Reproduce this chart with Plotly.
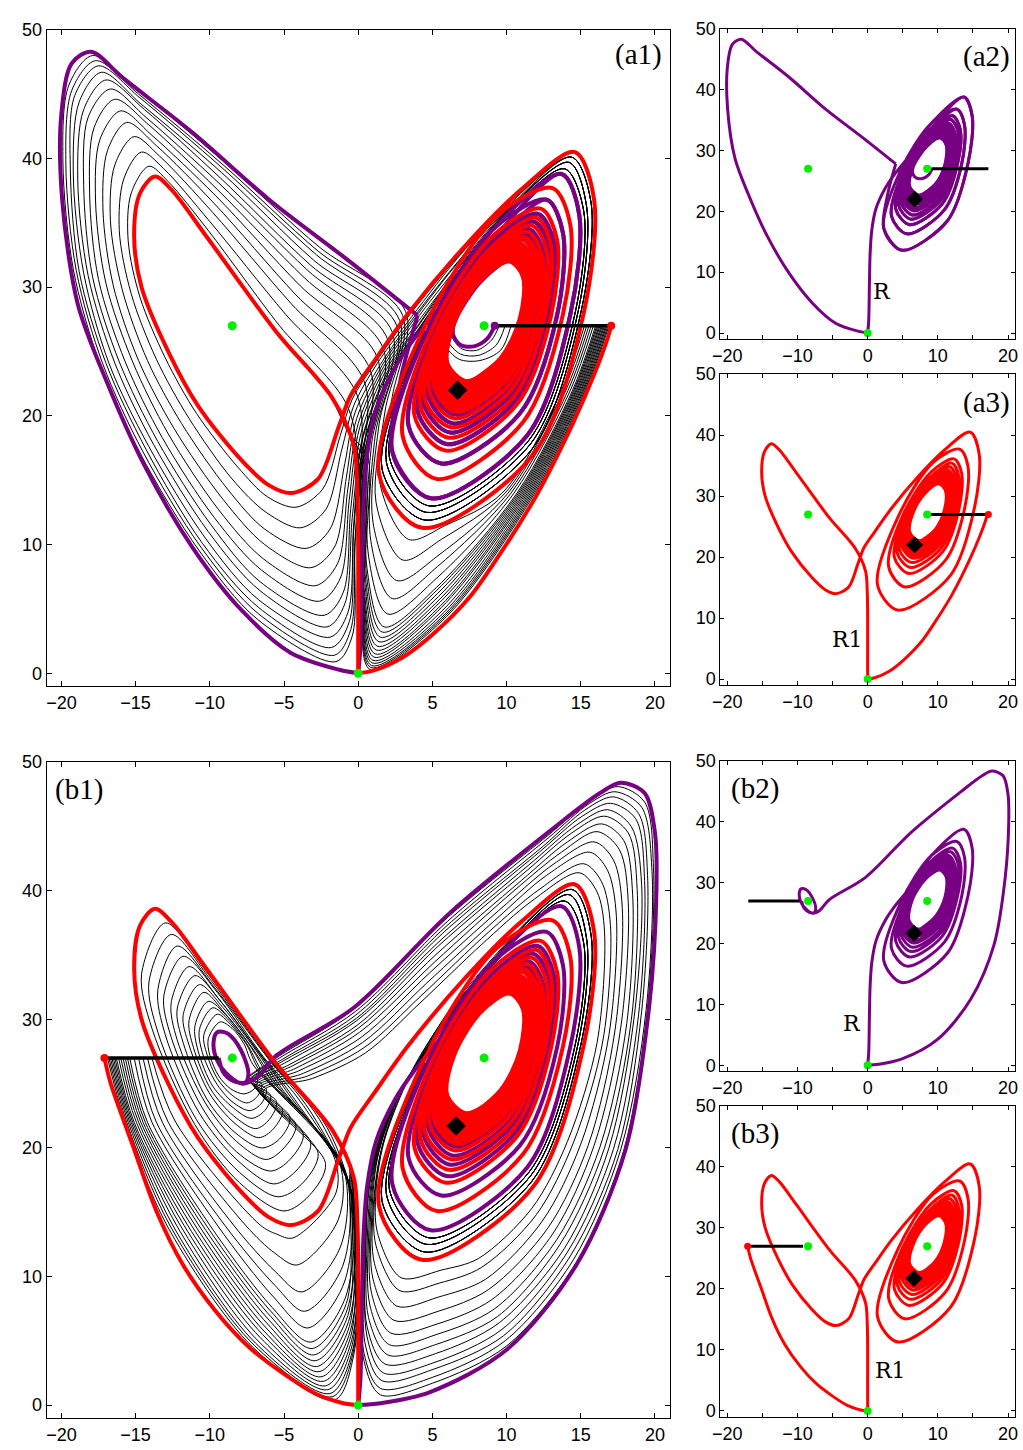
import plotly.graph_objects as go

PURPLE = "rgb(120,0,130)"
RED = "rgb(255,0,0)"
GREEN = "rgb(0,238,0)"
BLACK = "black"

# ---------------- fixed points (x, z) ----------------
EQ_X = [-8.485, 0.0, 8.485]
EQ_Z = [27.0, 0.0, 27.0]
DIAM_A_X, DIAM_A_Z = [6.7], [22.0]
DIAM_B_X, DIAM_B_Z = [6.6], [21.7]

# ---------------- spiral loops around C+ (outer -> inner) ----------------
# points per loop: top, right, right-lower, lower-right, bottom, left, left-upper, upper-left
LOOP_X = [
    [14.6, 15.9, 15.2, 11.8, 4.3, 1.4, 4.3, 9.3],
    [13.7, 14.9, 14.3, 11.4, 4.9, 2.3, 4.7, 9.1],
    [13.1, 14.3, 13.8, 11.1, 5.3, 3.0, 5.0, 9.0],
    [12.7, 13.8, 13.4, 10.9, 5.6, 3.4, 5.2, 8.9],
    [12.3, 13.4, 13.0, 10.7, 5.9, 3.8, 5.4, 8.8],
    [12.1, 13.2, 12.8, 10.6, 6.0, 4.0, 5.5, 8.7],
    [12.0, 13.0, 12.6, 10.5, 6.1, 4.2, 5.6, 8.7],
    [11.8, 12.9, 12.5, 10.4, 6.2, 4.4, 5.7, 8.7],
    [11.7, 12.7, 12.3, 10.3, 6.3, 4.5, 5.8, 8.6],
    [11.5, 12.5, 12.2, 10.3, 6.4, 4.7, 5.8, 8.6],
    [11.4, 12.4, 12.1, 10.2, 6.5, 4.8, 5.9, 8.6],
    [11.3, 12.3, 12.0, 10.1, 6.6, 4.9, 6.0, 8.5],
    [11.2, 12.2, 11.8, 10.1, 6.6, 5.1, 6.0, 8.5],
    [11.1, 12.0, 11.7, 10.0, 6.7, 5.2, 6.1, 8.5],
    [10.9, 11.9, 11.6, 10.0, 6.8, 5.3, 6.1, 8.5],
    [10.9, 11.8, 11.5, 9.9, 6.8, 5.4, 6.2, 8.4],
    [10.8, 11.7, 11.5, 9.9, 6.9, 5.5, 6.2, 8.4],
    [10.7, 11.6, 11.4, 9.8, 7.0, 5.6, 6.3, 8.4],
    [10.6, 11.5, 11.3, 9.8, 7.0, 5.7, 6.3, 8.4],
    [10.5, 11.5, 11.2, 9.8, 7.1, 5.7, 6.3, 8.4],
    [10.5, 11.4, 11.2, 9.7, 7.1, 5.8, 6.4, 8.4],
    [10.4, 11.3, 11.1, 9.7, 7.2, 5.9, 6.4, 8.3],
    [10.3, 11.2, 11.0, 9.7, 7.2, 6.0, 6.4, 8.3],
    [10.3, 11.2, 11.0, 9.6, 7.3, 6.0, 6.5, 8.3],
    [10.2, 11.1, 10.9, 9.6, 7.3, 6.1, 6.5, 8.3],
]
LOOP_Z = [
    [40.5, 36.8, 28.0, 17.0, 11.3, 15.5, 26.5, 35.5],
    [38.8, 35.6, 27.9, 18.5, 13.6, 17.2, 26.7, 34.5],
    [37.7, 34.8, 27.9, 19.5, 15.1, 18.4, 26.8, 33.9],
    [36.8, 34.2, 27.8, 20.2, 16.3, 19.2, 26.8, 33.4],
    [36.1, 33.7, 27.8, 20.9, 17.3, 20.0, 26.9, 32.9],
    [35.7, 33.4, 27.8, 21.2, 17.8, 20.4, 26.9, 32.7],
    [35.4, 33.2, 27.8, 21.5, 18.3, 20.7, 27.0, 32.5],
    [35.1, 33.0, 27.7, 21.8, 18.7, 21.0, 27.0, 32.3],
    [34.8, 32.8, 27.7, 22.0, 19.1, 21.3, 27.0, 32.2],
    [34.5, 32.6, 27.7, 22.2, 19.4, 21.6, 27.1, 32.0],
    [34.3, 32.4, 27.7, 22.5, 19.8, 21.9, 27.1, 31.9],
    [34.1, 32.3, 27.7, 22.7, 20.1, 22.1, 27.1, 31.7],
    [33.9, 32.1, 27.7, 22.9, 20.3, 22.3, 27.1, 31.6],
    [33.7, 32.0, 27.7, 23.0, 20.6, 22.5, 27.1, 31.5],
    [33.4, 31.8, 27.7, 23.2, 20.9, 22.7, 27.2, 31.4],
    [33.3, 31.7, 27.7, 23.4, 21.2, 22.9, 27.2, 31.2],
    [33.1, 31.6, 27.7, 23.5, 21.4, 23.1, 27.2, 31.2],
    [32.9, 31.5, 27.6, 23.7, 21.6, 23.2, 27.2, 31.1],
    [32.8, 31.3, 27.6, 23.8, 21.9, 23.4, 27.2, 31.0],
    [32.6, 31.2, 27.6, 23.9, 22.0, 23.5, 27.2, 30.9],
    [32.5, 31.2, 27.6, 24.1, 22.2, 23.7, 27.3, 30.8],
    [32.4, 31.1, 27.6, 24.2, 22.4, 23.8, 27.3, 30.7],
    [32.3, 31.0, 27.6, 24.3, 22.6, 23.9, 27.3, 30.7],
    [32.1, 30.9, 27.6, 24.4, 22.7, 24.1, 27.3, 30.6],
    [32.0, 30.8, 27.6, 24.5, 22.9, 24.2, 27.3, 30.5],
]
RED_LOOPS = [0, 2, 4, 6, 8, 10, 12, 13, 14, 15, 16, 17, 18, 19, 20, 21, 22, 23]
PUR_OUT_LOOPS = [23, 21, 19, 17, 15, 13, 11, 9, 7, 5, 3]
PUR_IN_LOOPS = [1, 3, 5, 7, 9, 11, 13, 15, 17, 19, 21]

BLOOP_X = [[14.4, 15.7, 15.0, 11.7, 4.5, 1.6, 4.4], [14.2, 15.4, 14.8, 11.6, 4.6, 1.9, 4.5], [13.9, 15.2, 14.6, 11.5, 4.8, 2.1, 4.6]]
BLOOP_Z = [[40.1, 36.5, 28.0, 17.4, 11.9, 15.9, 26.5], [39.7, 36.2, 28.0, 17.8, 12.5, 16.4, 26.6], [39.2, 35.9, 27.9, 18.1, 13.0, 16.8, 26.6]]

# ---------------- purple trajectory R ----------------
PUR_HOOK_X = [9.2, 8.7, 7.8, 6.9, 6.4]
PUR_HOOK_Z = [27.0, 26.0, 25.4, 25.5, 26.3]
PUR_EXIT_X = [2.8, 4.0]
PUR_EXIT_Z = [22.5, 27.8]
PUR_LOBE_X = [4.0, -0.8, -6.0, -11.15, -15.9, -18.0, -19.3, -20.0, -19.95, -18.9, -17.0, -14.45, -11.15, -7.86, -4.56, -1.27, 0.0]
PUR_LOBE_Z = [27.8, 32.2, 36.8, 42.0, 46.3, 48.3, 47.4, 43.5, 36.8, 28.7, 22.8, 16.25, 9.75, 4.9, 1.6, 0.27, 0.0]
PUR_RET_X = [0.0, 0.15, 0.25, 0.35, 0.6, 1.2, 2.5, 3.9, 5.6]
PUR_RET_Z = [0.0, 2.0, 8.0, 13.0, 17.0, 20.5, 23.8, 26.2, 28.6]
PUR_B_X = [-9.4, -9.1, -8.4, -7.6, -7.4, -7.9, -8.8, -9.5, -9.75, -9.5, -8.7, -7.8, -6.8, -5.5, -0.3, 6.2, 13.3,
           16.3, 17.7, 19.3, 20.0, 20.1, 19.6, 18.0, 14.7, 10.0, 4.8, 1.5, 0.0]
PUR_B_Z = [27.0, 25.9, 25.2, 25.1, 25.8, 27.6, 28.9, 29.0, 28.2, 26.8, 25.6, 25.0, 25.5, 27.2, 30.9, 38.3, 45.0,
           47.6, 48.4, 47.6, 44.5, 40.0, 30.9, 19.8, 10.9, 4.3, 1.0, 0.15, 0.0]

# ---------------- red trajectory R1 ----------------
RED_A_START_X = [17.05, 16.8, 16.0, 14.5, 12.0, 9.4, 7.5, 5.2, 3.07, 1.0, 0.0]
RED_A_START_Z = [27.0, 26.0, 23.5, 19.5, 13.8, 9.0, 5.9, 3.2, 1.28, 0.2, 0.0]
RED_B_START_X = [-17.1, -16.7, -15.1, -13.6, -11.8, -9.6, -7.35, -5.1, -2.9, -1.0, 0.0]
RED_B_START_Z = [27.0, 25.1, 19.9, 15.1, 10.9, 7.3, 4.5, 2.5, 0.9, 0.15, 0.0]
RED_UP_X = [0.0, 0.0, 0.0, -0.05, -0.3]
RED_UP_Z = [0.0, 5.0, 10.0, 14.0, 17.7]
RED_LOBE_X = [-1.75, -5.5, -10.2, -12.6, -13.7, -14.7, -15.1, -14.6, -12.8, -10.8, -7.9, -6.0, -4.5, -2.7, -1.3, -0.5]
RED_LOBE_Z = [21.4, 26.5, 33.9, 37.6, 38.6, 37.3, 34.0, 30.0, 25.0, 20.8, 16.6, 14.6, 14.0, 15.1, 19.2, 21.6]
RED_ENTRY_X = [1.1, 3.4, 7.2, 11.0]
RED_ENTRY_Z = [24.3, 28.0, 33.2, 37.6]

# ---------------- black family of panel (a1) ----------------
A_S_X = [16.9, 16.75, 16.6, 16.45, 16.3, 16.15, 16.0, 15.85, 15.7, 15.55, 15.4, 15.25]
A_S_Z = [27.0, 27.0, 27.0, 27.0, 27.0, 27.0, 27.0, 27.0, 27.0, 27.0, 27.0, 27.0]
A_K1_X = [15.35, 15.2, 15.05, 14.9, 14.75, 14.6, 14.45, 14.3, 14.15, 14.0, 13.85, 13.7]
A_K1_Z = [22.0, 22.0, 22.0, 22.0, 22.0, 22.0, 22.0, 22.0, 22.0, 22.0, 22.0, 22.0]
A_K2_X = [11.9, 11.7, 11.5, 11.3, 11.1, 10.9, 10.7, 10.5, 10.3, 10.1, 9.9, 9.7]
A_K2_Z = [14.0, 14.0, 14.0, 14.0, 14.0, 14.0, 14.0, 14.0, 14.0, 14.0, 14.0, 14.0]
A_K3_X = [5.95, 5.85, 5.7, 5.55, 5.45, 5.35, 5.3, 5.3, 5.35, 5.45, 5.6, 5.9]
A_K3_Z = [4.4, 4.6, 4.9, 5.25, 5.7, 6.2, 6.7, 7.4, 8.3, 9.2, 10.4, 11.5]
A_RU_X = [0.8, 0.9, 1.0, 1.15, 1.3, 1.5, 1.75, 2.0, 2.3, 2.6, 3.0, 3.4]
A_RU_Z = [0.3, 0.6, 1.0, 1.5, 2.1, 2.8, 3.6, 4.6, 5.8, 7.2, 8.8, 10.4]
A_UP1_X = [0.2, 0.25, 0.3, 0.35, 0.4, 0.5, 0.6, 0.7, 0.85, 1.0, 1.2, 1.45]
A_UP1_Z = [4.8, 5.1, 5.5, 6.0, 6.6, 7.3, 8.1, 9.1, 10.3, 11.7, 13.3, 14.9]
A_UP2_X = [0.1, 0.15, 0.2, 0.3, 0.4, 0.55, 0.7, 0.9, 1.15, 1.4, 1.8, 2.3]
A_UP2_Z = [14.0, 14.5, 15.0, 15.5, 16.0, 16.6, 17.2, 17.8, 18.5, 19.3, 20.3, 21.5]
A_F_X = [-0.7, -0.1, 0.4, 0.8, 1.3, 1.7, 2.0, 2.3, 2.6, 2.8, 3.0, 3.2]
A_F_Z = [20.7, 21.7, 22.7, 23.6, 24.5, 25.2, 25.9, 26.5, 27.0, 27.4, 27.8, 28.1]
A_D1_X = [-5.3, -4.9, -4.5, -4.2, -3.9, -3.6, -3.4, -3.2, -3.0, -2.8, -2.7, -2.6]
A_D1_Z = [27.0, 27.9, 28.7, 29.4, 30.1, 30.7, 31.3, 31.7, 32.1, 32.5, 32.8, 33.1]
A_D2_X = [-10.1, -10.0, -9.8, -9.7, -9.6, -9.5, -9.4, -9.3, -9.2, -9.1, -9.1, -9.0]
A_D2_Z = [34.4, 35.1, 35.8, 36.5, 37.1, 37.6, 38.1, 38.5, 38.9, 39.2, 39.5, 39.7]
A_D3_X = [-12.8, -13.1, -13.4, -13.6, -13.9, -14.1, -14.3, -14.4, -14.6, -14.7, -14.8, -14.9]
A_D3_Z = [38.2, 39.2, 40.2, 41.0, 41.8, 42.6, 43.2, 43.8, 44.2, 44.7, 45.0, 45.4]
A_T_X = [-14.1, -14.6, -15.1, -15.6, -16.0, -16.4, -16.7, -17.0, -17.3, -17.5, -17.7, -17.9]
A_T_Z = [39.4, 40.5, 41.7, 42.8, 43.7, 44.6, 45.4, 46.1, 46.7, 47.2, 47.6, 48.0]
A_L1_X = [-15.3, -15.8, -16.4, -16.9, -17.4, -17.8, -18.2, -18.5, -18.8, -19.1, -19.3, -19.5]
A_L1_Z = [37.3, 38.4, 39.5, 40.6, 41.5, 42.4, 43.2, 43.8, 44.4, 44.9, 45.3, 45.7]
A_L_X = [-15.5, -16.1, -16.7, -17.2, -17.7, -18.1, -18.5, -18.9, -19.2, -19.4, -19.7, -19.9]
A_L_Z = [33.6, 34.4, 35.2, 36.0, 36.7, 37.3, 37.9, 38.4, 38.8, 39.2, 39.5, 39.8]
A_L2_X = [-14.7, -15.3, -15.9, -16.5, -17.0, -17.5, -17.9, -18.2, -18.5, -18.8, -19.0, -19.2]
A_L2_Z = [29.2, 29.5, 29.8, 30.1, 30.3, 30.6, 30.8, 30.9, 31.1, 31.2, 31.3, 31.4]
A_L3_X = [-13.0, -13.6, -14.2, -14.8, -15.2, -15.7, -16.1, -16.4, -16.8, -17.0, -17.2, -17.4]
A_L3_Z = [24.5, 24.4, 24.3, 24.3, 24.2, 24.2, 24.2, 24.1, 24.1, 24.1, 24.0, 24.0]
A_L4_X = [-10.9, -11.4, -11.9, -12.4, -12.8, -13.2, -13.5, -13.8, -14.1, -14.3, -14.5, -14.7]
A_L4_Z = [20.2, 19.8, 19.4, 19.0, 18.6, 18.3, 18.0, 17.8, 17.6, 17.4, 17.2, 17.1]
A_L5_X = [-8.1, -8.5, -8.8, -9.1, -9.4, -9.7, -9.9, -10.1, -10.3, -10.5, -10.6, -10.7]
A_L5_Z = [16.0, 15.1, 14.3, 13.5, 12.7, 12.1, 11.5, 11.0, 10.5, 10.1, 9.8, 9.5]
A_L6_X = [-6.1, -6.2, -6.3, -6.3, -6.4, -6.5, -6.6, -6.6, -6.7, -6.7, -6.7, -6.8]
A_L6_Z = [13.7, 12.5, 11.2, 10.0, 8.9, 8.0, 7.1, 6.4, 5.7, 5.1, 4.6, 4.2]
A_LU_X = [-4.2, -3.9, -3.5, -3.2, -2.9, -2.6, -2.3, -2.1, -1.9, -1.8, -1.6, -1.5]
A_LU_Z = [12.9, 11.3, 9.7, 8.2, 6.8, 5.6, 4.5, 3.6, 2.8, 2.0, 1.4, 0.9]
A_U1_X = [-2.4, -2.2, -1.9, -1.6, -1.4, -1.2, -1.0, -0.9, -0.7, -0.6, -0.5, -0.4]
A_U1_Z = [14.3, 12.7, 11.2, 9.8, 8.5, 7.4, 6.3, 5.4, 4.7, 4.0, 3.4, 2.9]
A_U2_X = [-1.2, -1.1, -0.9, -0.8, -0.7, -0.6, -0.5, -0.4, -0.3, -0.3, -0.2, -0.2]
A_U2_Z = [18.5, 17.4, 16.3, 15.2, 14.3, 13.5, 12.8, 12.1, 11.6, 11.1, 10.6, 10.3]
A_U3_X = [-0.4, -0.3, -0.2, -0.1, 0.0, 0.1, 0.2, 0.3, 0.3, 0.4, 0.4, 0.5]
A_U3_Z = [21.3, 20.8, 20.3, 19.8, 19.4, 19.1, 18.7, 18.4, 18.2, 18.0, 17.8, 17.6]
A_E1_X = [1.2, 1.3, 1.5, 1.6, 1.7, 1.8, 1.9, 2.0, 2.1, 2.2, 2.2, 2.3]
A_E1_Z = [24.2, 24.1, 24.0, 23.9, 23.8, 23.7, 23.6, 23.5, 23.5, 23.4, 23.4, 23.3]
A_E2_X = [3.5, 3.6, 3.7, 3.7, 3.8, 3.9, 4.0, 4.0, 4.1, 4.1, 4.1, 4.2]
A_E2_Z = [27.9, 27.7, 27.6, 27.4, 27.3, 27.1, 27.0, 26.9, 26.8, 26.8, 26.7, 26.6]
A_E3_X = [7.2, 7.1, 7.1, 7.0, 7.0, 7.0, 6.9, 6.9, 6.9, 6.9, 6.8, 6.8]
A_E3_Z = [33.0, 32.8, 32.5, 32.3, 32.0, 31.8, 31.7, 31.5, 31.4, 31.3, 31.2, 31.1]
A_E4_X = [10.9, 10.7, 10.5, 10.4, 10.2, 10.1, 10.0, 9.8, 9.8, 9.7, 9.6, 9.6]
A_E4_Z = [37.4, 37.1, 36.8, 36.5, 36.2, 36.0, 35.8, 35.6, 35.4, 35.3, 35.2, 35.1]
A_LOOP_ID = [0, 0, 0, 0, 1, 1, 1, 1, 2, 2, 2, 2]

# extra nested U curves of (a1), between the ones above
AX_S_X = [16.83, 16.68, 16.53, 16.38, 16.23, 16.08]
AX_K1_X = [15.28, 15.13, 14.98, 14.83, 14.68, 14.53]
AX_K2_X = [11.8, 11.6, 11.4, 11.2, 11.0, 10.8]
AX_K3_X = [5.9, 5.8, 5.6, 5.5, 5.4, 5.3]
AX_K3_Z = [4.5, 4.75, 5.1, 5.5, 5.95, 6.45]
AX_RU_X = [0.85, 0.95, 1.07, 1.22, 1.4, 1.62]
AX_RU_Z = [0.45, 0.8, 1.25, 1.8, 2.45, 3.2]
AX_UP1_X = [0.22, 0.27, 0.32, 0.37, 0.45, 0.55]
AX_UP1_Z = [4.95, 5.3, 5.75, 6.3, 6.95, 7.7]
AX_UP2_X = [0.12, 0.17, 0.25, 0.35, 0.47, 0.62]
AX_UP2_Z = [14.2, 14.7, 15.2, 15.7, 16.3, 16.9]

HOOK_X = [[9.5, 9.0, 8.0, 7.0, 6.3, 6.2], [9.9, 9.3, 8.1, 6.9, 6.0, 5.9], [10.3, 9.6, 8.2, 6.8, 5.8, 5.6]]
HOOK_Z = [[27.0, 25.9, 25.1, 25.2, 26.2, 27.5], [27.0, 25.5, 24.7, 24.8, 25.9, 27.5], [27.0, 25.1, 24.3, 24.4, 25.6, 27.5]]

# ---------------- black family of panel (b1) ----------------
B_S_X = [-16.9, -16.7, -16.5, -16.3, -16.0, -15.7, -15.4, -15.1, -14.8, -14.5, -14.2, -13.9]
B_K1_X = [-15.7, -15.5, -15.3, -15.1, -14.8, -14.5, -14.2, -13.9, -13.6, -13.2, -12.8, -12.3]
B_K2_X = [-12.9, -12.5, -12.0, -11.5, -11.0, -10.5, -10.0, -9.5, -9.0, -8.4, -7.6, -6.6]
B_K3_X = [-7.1, -6.9, -6.6, -6.3, -6.1, -5.9, -5.8, -5.7, -5.6, -5.6, -5.6, -5.5]
B_K3_Z = [4.5, 4.8, 5.25, 5.7, 6.3, 6.9, 7.6, 8.4, 9.3, 10.4, 11.8, 13.3]
B_RU_X = [-1.6, -1.9, -2.2, -2.5, -2.8, -3.0, -3.2, -3.4, -3.6, -3.8, -4.1, -4.4]
B_RU_Z = [0.4, 0.9, 1.5, 2.2, 3.0, 3.9, 4.9, 6.0, 7.3, 8.8, 10.9, 13.0]
B_UP1_X = [-0.3, -0.35, -0.45, -0.55, -0.65, -0.75, -0.85, -0.95, -1.05, -1.2, -1.35, -1.5]
B_UP1_Z = [3.9, 4.4, 5.0, 5.7, 6.5, 7.4, 8.4, 9.5, 10.8, 12.3, 14.4, 16.5]
B_UP2_X = [-0.2, -0.25, -0.3, -0.35, -0.45, -0.55, -0.65, -0.75, -0.9, -1.05, -1.3, -1.7]
B_UP2_Z = [15.0, 15.4, 15.8, 16.2, 16.6, 17.0, 17.4, 17.8, 18.2, 18.6, 19.0, 19.5]
B_Q1_X = [-2.1, -2.6, -3.2, -3.7, -4.3, -4.7, -5.2, -5.6, -6.0, -6.4, -6.7, -7.1]
B_Q1_Z = [21.6, 22.2, 22.8, 23.3, 23.8, 24.2, 24.7, 25.1, 25.5, 25.8, 26.1, 26.5]
B_Q2_X = [-5.7, -5.9, -6.1, -6.4, -6.6, -6.7, -6.9, -7.1, -7.2, -7.4, -7.5, -7.7]
B_Q2_Z = [26.6, 26.8, 27.0, 27.1, 27.3, 27.4, 27.6, 27.7, 27.8, 27.9, 28.0, 28.1]
B_Q3_X = [-10.1, -9.9, -9.7, -9.5, -9.4, -9.2, -9.1, -9.0, -8.8, -8.7, -8.6, -8.5]
B_Q3_Z = [33.5, 33.0, 32.5, 32.1, 31.6, 31.3, 30.9, 30.5, 30.2, 29.9, 29.6, 29.3]
B_QT_X = [-13.0, -12.6, -12.2, -11.8, -11.4, -11.0, -10.7, -10.4, -10.1, -9.8, -9.5, -9.3]
B_QT_Z = [37.5, 36.6, 35.7, 34.9, 34.1, 33.4, 32.7, 32.1, 31.4, 30.9, 30.4, 29.8]
B_QL_X = [-14.6, -14.1, -13.5, -13.1, -12.6, -12.2, -11.8, -11.4, -11.0, -10.7, -10.4, -10.1]
B_QL_Z = [33.5, 32.9, 32.3, 31.8, 31.3, 30.8, 30.3, 29.9, 29.5, 29.2, 28.8, 28.5]
B_QL2_X = [-13.9, -13.5, -13.0, -12.6, -12.2, -11.8, -11.4, -11.1, -10.8, -10.5, -10.2, -10.0]
B_QL2_Z = [29.3, 29.0, 28.8, 28.6, 28.4, 28.2, 28.0, 27.8, 27.6, 27.4, 27.3, 27.2]
B_QL3_X = [-11.0, -10.9, -10.7, -10.5, -10.3, -10.2, -10.0, -9.9, -9.8, -9.6, -9.5, -9.4]
B_QL3_Z = [21.8, 22.2, 22.7, 23.1, 23.5, 23.8, 24.2, 24.5, 24.8, 25.1, 25.4, 25.6]
B_QB1_X = [-8.0, -8.0, -8.1, -8.2, -8.2, -8.3, -8.3, -8.4, -8.4, -8.5, -8.5, -8.6]
B_QB1_Z = [17.3, 18.1, 19.0, 19.7, 20.5, 21.2, 21.9, 22.5, 23.1, 23.6, 24.1, 24.6]
B_QB_X = [-5.0, -5.4, -5.7, -5.9, -6.2, -6.5, -6.7, -6.9, -7.2, -7.3, -7.5, -7.7]
B_QB_Z = [15.1, 16.2, 17.2, 18.2, 19.1, 20.0, 20.8, 21.5, 22.3, 22.9, 23.5, 24.2]
B_QR_X = [-3.3, -3.8, -4.2, -4.6, -5.0, -5.3, -5.7, -6.0, -6.3, -6.5, -6.8, -7.0]
B_QR_Z = [16.3, 17.2, 18.2, 19.1, 20.0, 20.7, 21.5, 22.2, 22.9, 23.5, 24.0, 24.6]
B_QR2_X = [-2.2, -2.7, -3.2, -3.7, -4.2, -4.6, -5.1, -5.5, -5.9, -6.2, -6.5, -6.8]
B_QR2_Z = [18.8, 19.6, 20.4, 21.1, 21.8, 22.4, 23.0, 23.6, 24.1, 24.6, 25.0, 25.4]
B_X0_X = [-6.4, -6.5, -6.7, -6.8, -6.9, -7.0, -7.1, -7.2, -7.3, -7.4, -7.5, -7.5]
B_X0_Z = [24.4, 24.5, 24.6, 24.7, 24.8, 24.9, 25.0, 25.1, 25.2, 25.2, 25.3, 25.4]
B_G1_X = [-3.1, -3.4, -3.7, -4.0, -4.2, -4.4, -4.6, -4.8, -5.0, -5.1, -5.3, -5.4]
B_G1_Z = [25.4, 25.6, 25.8, 26.0, 26.2, 26.4, 26.5, 26.7, 26.8, 26.9, 27.0, 27.1]
B_G2_X = [0.5, 0.4, 0.3, 0.2, 0.1, 0.0, 0.0, -0.1, -0.1, -0.2, -0.2, -0.3]
B_G2_Z = [27.4, 27.8, 28.2, 28.6, 29.0, 29.3, 29.6, 29.9, 30.1, 30.3, 30.6, 30.8]
B_G3_X = [4.1, 4.3, 4.6, 4.8, 5.1, 5.3, 5.4, 5.6, 5.7, 5.9, 6.0, 6.1]
B_G3_Z = [31.2, 31.9, 32.8, 33.6, 34.4, 35.1, 35.7, 36.2, 36.7, 37.2, 37.6, 38.0]
B_G4_X = [8.3, 8.8, 9.4, 10.0, 10.5, 11.0, 11.4, 11.8, 12.2, 12.5, 12.8, 13.1]
B_G4_Z = [35.8, 36.8, 37.9, 39.0, 40.0, 40.8, 41.6, 42.3, 43.0, 43.5, 44.1, 44.6]
B_G5_X = [11.7, 12.2, 12.7, 13.2, 13.7, 14.1, 14.4, 14.7, 15.1, 15.3, 15.6, 15.8]
B_G5_Z = [39.2, 40.1, 41.2, 42.1, 43.0, 43.8, 44.5, 45.1, 45.8, 46.3, 46.8, 47.2]
B_T_X = [14.9, 15.2, 15.6, 15.9, 16.1, 16.4, 16.6, 16.8, 17.0, 17.2, 17.3, 17.5]
B_T_Z = [41.4, 42.1, 43.0, 43.8, 44.6, 45.2, 45.8, 46.3, 46.8, 47.3, 47.7, 48.1]
B_R1_X = [16.1, 16.4, 16.8, 17.2, 17.6, 17.9, 18.2, 18.4, 18.7, 18.9, 19.1, 19.3]
B_R1_Z = [39.9, 40.7, 41.6, 42.4, 43.2, 43.9, 44.5, 45.0, 45.6, 46.0, 46.5, 46.9]
B_R_X = [16.6, 17.0, 17.4, 17.8, 18.2, 18.5, 18.8, 19.1, 19.3, 19.5, 19.8, 19.9]
B_R_Z = [36.8, 37.3, 38.0, 38.6, 39.1, 39.6, 40.1, 40.5, 40.8, 41.2, 41.5, 41.8]
B_R2_X = [16.1, 16.5, 16.9, 17.3, 17.7, 18.1, 18.4, 18.6, 18.9, 19.1, 19.4, 19.5]
B_R2_Z = [28.2, 28.4, 28.8, 29.1, 29.4, 29.7, 29.9, 30.2, 30.4, 30.6, 30.7, 30.9]
B_R3_X = [14.1, 14.5, 15.0, 15.5, 15.9, 16.3, 16.6, 16.9, 17.2, 17.5, 17.7, 17.9]
B_R3_Z = [20.5, 20.4, 20.3, 20.2, 20.2, 20.1, 20.0, 20.0, 19.9, 19.9, 19.9, 19.8]
B_R4_X = [11.7, 12.0, 12.4, 12.8, 13.1, 13.4, 13.6, 13.9, 14.1, 14.3, 14.5, 14.7]
B_R4_Z = [15.3, 14.8, 14.3, 13.8, 13.3, 12.9, 12.5, 12.2, 11.9, 11.6, 11.3, 11.1]
B_R5_X = [8.1, 8.3, 8.6, 8.8, 9.0, 9.2, 9.4, 9.5, 9.7, 9.8, 9.9, 10.0]
B_R5_Z = [11.4, 10.7, 9.8, 9.0, 8.2, 7.5, 6.9, 6.4, 5.9, 5.4, 5.0, 4.6]
B_RB_X = [5.6, 5.5, 5.4, 5.4, 5.3, 5.3, 5.2, 5.2, 5.1, 5.1, 5.1, 5.0]
B_RB_Z = [10.5, 9.5, 8.4, 7.3, 6.3, 5.5, 4.7, 4.0, 3.3, 2.8, 2.2, 1.7]
B_RU2_X = [2.9, 2.8, 2.6, 2.4, 2.2, 2.1, 2.0, 1.8, 1.7, 1.6, 1.5, 1.5]
B_RU2_Z = [9.9, 8.9, 7.7, 6.6, 5.6, 4.7, 3.9, 3.2, 2.5, 1.9, 1.3, 0.8]
B_RA1_X = [1.3, 1.2, 1.1, 1.0, 0.9, 0.8, 0.7, 0.6, 0.6, 0.5, 0.4, 0.4]
B_RA1_Z = [13.4, 12.4, 11.0, 9.8, 8.7, 7.7, 6.8, 6.1, 5.3, 4.6, 4.0, 3.4]
B_RA2_X = [1.2, 1.1, 1.0, 0.9, 0.8, 0.7, 0.6, 0.5, 0.5, 0.4, 0.3, 0.3]
B_RA2_Z = [16.6, 16.0, 15.1, 14.3, 13.6, 13.0, 12.4, 12.0, 11.5, 11.0, 10.6, 10.3]
B_RA3_X = [1.7, 1.6, 1.5, 1.3, 1.2, 1.1, 1.0, 0.9, 0.8, 0.8, 0.7, 0.6]
B_RA3_Z = [20.3, 20.0, 19.6, 19.2, 18.8, 18.5, 18.2, 18.0, 17.7, 17.5, 17.3, 17.1]
B_E1_X = [3.0, 2.9, 2.8, 2.7, 2.7, 2.6, 2.5, 2.5, 2.4, 2.4, 2.4, 2.3]
B_E1_Z = [24.4, 24.3, 24.2, 24.1, 24.0, 23.9, 23.8, 23.7, 23.6, 23.6, 23.5, 23.4]
B_E2_X = [4.6, 4.5, 4.5, 4.5, 4.4, 4.4, 4.3, 4.3, 4.3, 4.3, 4.2, 4.2]
B_E2_Z = [27.9, 27.8, 27.6, 27.5, 27.3, 27.2, 27.1, 27.0, 26.9, 26.8, 26.7, 26.7]
B_E3_X = [7.0, 7.0, 6.9, 6.9, 6.9, 6.9, 6.9, 6.9, 6.8, 6.8, 6.8, 6.8]
B_E3_Z = [32.0, 31.8, 31.7, 31.6, 31.5, 31.4, 31.4, 31.3, 31.2, 31.2, 31.1, 31.0]

# extra nested U curves of (b1)
BX_S_X = [-16.8, -16.6, -16.4, -16.15, -15.85, -15.55]
BX_K1_X = [-15.6, -15.4, -15.2, -14.95, -14.65, -14.35]
BX_K2_X = [-12.7, -12.25, -11.75, -11.25, -10.75, -10.25]
BX_K3_X = [-7.0, -6.75, -6.45, -6.2, -6.0, -5.85]
BX_K3_Z = [4.65, 5.0, 5.5, 6.0, 6.6, 7.25]
BX_RU_X = [-1.75, -2.05, -2.35, -2.65, -2.9, -3.1]
BX_RU_Z = [0.65, 1.2, 1.85, 2.6, 3.45, 4.4]
BX_UP1_X = [-0.33, -0.4, -0.5, -0.6, -0.7, -0.8]
BX_UP1_Z = [4.15, 4.7, 5.35, 6.1, 6.95, 7.9]
BX_UP2_X = [-0.22, -0.27, -0.32, -0.4, -0.5, -0.6]
BX_UP2_Z = [15.2, 15.6, 16.0, 16.4, 16.8, 17.2]
# the extra curves merge into the red path where it bends left above x = 0
EXTRA_END_X, EXTRA_END_Z = [-0.6, -1.75], [18.6, 21.4]

# ---------------- initial-condition segments and dots ----------------
SEG_A1_X, SEG_A2_X, SEG_A3_X = [9.2, 17.05], [9.1, 17.2], [8.7, 16.9]
SEG_B1_X, SEG_B2_X, SEG_B3_X = [-17.1, -9.4], [-17.0, -9.7], [-16.6, -9.2]
SEG_Z = [27.0, 27.0]
RED_DOT_A1, RED_DOT_A3 = ([17.05], [27.0]), ([17.2], [27.0])
RED_DOT_B = ([-17.1], [27.0])
PUR_DOT_A1 = ([9.2], [27.0])

LBL_R_A2, LBL_R1_A3 = (2.1, 6.8), (-2.8, 6.5)
LBL_R_B2, LBL_R1_B3 = (-2.2, 6.9), (3.2, 6.6)


# ---------------- path assembly ----------------
def loop(k, a=0, b=8):
    return LOOP_X[k][a:b], LOOP_Z[k][a:b]


def chain(parts):
    X, Z = [], []
    for xs, zs in parts:
        X += list(xs)
        Z += list(zs)
    return X, Z


def purple_out_spiral():
    parts = [(PUR_HOOK_X, PUR_HOOK_Z), loop(24, 6, 8)]
    parts += [loop(k) for k in PUR_OUT_LOOPS]
    parts += [loop(1, 0, 6), (PUR_EXIT_X, PUR_EXIT_Z)]
    return chain(parts)


def purple_return(dx, dz):
    parts = [(PUR_RET_X, PUR_RET_Z), loop(1, 7, 8)]
    parts += [loop(k) for k in PUR_IN_LOOPS]
    parts += [loop(23, 0, 4), (dx, dz)]
    return chain(parts)


def red_main(dx, dz):
    parts = [(RED_UP_X, RED_UP_Z), (RED_LOBE_X, RED_LOBE_Z), (RED_ENTRY_X, RED_ENTRY_Z)]
    parts += [loop(k) for k in RED_LOOPS]
    parts += [loop(24, 0, 4), (dx, dz)]
    return chain(parts)


A_STAGES = [(A_S_X, A_S_Z), (A_K1_X, A_K1_Z), (A_K2_X, A_K2_Z), (A_K3_X, A_K3_Z), (A_RU_X, A_RU_Z),
            (A_UP1_X, A_UP1_Z), (A_UP2_X, A_UP2_Z), (A_F_X, A_F_Z), (A_D1_X, A_D1_Z), (A_D2_X, A_D2_Z),
            (A_D3_X, A_D3_Z), (A_T_X, A_T_Z), (A_L1_X, A_L1_Z), (A_L_X, A_L_Z), (A_L2_X, A_L2_Z),
            (A_L3_X, A_L3_Z), (A_L4_X, A_L4_Z), (A_L5_X, A_L5_Z), (A_L6_X, A_L6_Z), (A_LU_X, A_LU_Z),
            (A_U1_X, A_U1_Z), (A_U2_X, A_U2_Z), (A_U3_X, A_U3_Z), (A_E1_X, A_E1_Z), (A_E2_X, A_E2_Z),
            (A_E3_X, A_E3_Z), (A_E4_X, A_E4_Z)]
AX_STAGES = [(AX_S_X, A_S_Z), (AX_K1_X, A_K1_Z), (AX_K2_X, A_K2_Z), (AX_K3_X, AX_K3_Z), (AX_RU_X, AX_RU_Z),
             (AX_UP1_X, AX_UP1_Z), (AX_UP2_X, AX_UP2_Z)]

B_STAGES = [(B_S_X, A_S_Z), (B_K1_X, A_K1_Z), (B_K2_X, A_K2_Z), (B_K3_X, B_K3_Z), (B_RU_X, B_RU_Z),
            (B_UP1_X, B_UP1_Z), (B_UP2_X, B_UP2_Z), (B_Q1_X, B_Q1_Z), (B_Q2_X, B_Q2_Z), (B_Q3_X, B_Q3_Z),
            (B_QT_X, B_QT_Z), (B_QL_X, B_QL_Z), (B_QL2_X, B_QL2_Z), (B_QL3_X, B_QL3_Z), (B_QB1_X, B_QB1_Z),
            (B_QB_X, B_QB_Z), (B_QR_X, B_QR_Z), (B_QR2_X, B_QR2_Z), (B_X0_X, B_X0_Z), (B_G1_X, B_G1_Z),
            (B_G2_X, B_G2_Z), (B_G3_X, B_G3_Z), (B_G4_X, B_G4_Z), (B_G5_X, B_G5_Z), (B_T_X, B_T_Z),
            (B_R1_X, B_R1_Z), (B_R_X, B_R_Z), (B_R2_X, B_R2_Z), (B_R3_X, B_R3_Z), (B_R4_X, B_R4_Z),
            (B_R5_X, B_R5_Z), (B_RB_X, B_RB_Z), (B_RU2_X, B_RU2_Z), (B_RA1_X, B_RA1_Z), (B_RA2_X, B_RA2_Z),
            (B_RA3_X, B_RA3_Z), (B_E1_X, B_E1_Z), (B_E2_X, B_E2_Z), (B_E3_X, B_E3_Z)]
BX_STAGES = [(BX_S_X, A_S_Z), (BX_K1_X, A_K1_Z), (BX_K2_X, A_K2_Z), (BX_K3_X, BX_K3_Z), (BX_RU_X, BX_RU_Z),
             (BX_UP1_X, BX_UP1_Z), (BX_UP2_X, BX_UP2_Z)]


def black_curve(stages, i):
    X = [xs[i] for xs, zs in stages]
    Z = [zs[i] for xs, zs in stages]
    j = A_LOOP_ID[i]
    return X + BLOOP_X[j], Z + BLOOP_Z[j]


def extra_curve(stages, i):
    X = [xs[i] for xs, zs in stages] + EXTRA_END_X
    Z = [zs[i] for xs, zs in stages] + EXTRA_END_Z
    return X, Z


fig = go.Figure()


def line(ax, X, Z, color, width, smooth=True):
    fig.add_trace(go.Scatter(
        x=X, y=Z, mode="lines", xaxis="x" + ax, yaxis="y" + ax,
        line=dict(color=color, width=width, shape="spline" if smooth else "linear", smoothing=0.9),
        hoverinfo="skip", showlegend=False))


def dots(ax, X, Z, color, size, symbol="circle"):
    fig.add_trace(go.Scatter(
        x=X, y=Z, mode="markers", xaxis="x" + ax, yaxis="y" + ax,
        marker=dict(color=color, size=size, symbol=symbol, line=dict(width=0)),
        hoverinfo="skip", showlegend=False))


def purple_all(ax, width, b_side, dx, dz):
    if b_side:
        line(ax, PUR_B_X, PUR_B_Z, PURPLE, width)
    else:
        X, Z = purple_out_spiral(); line(ax, X, Z, PURPLE, width)
        line(ax, PUR_LOBE_X, PUR_LOBE_Z, PURPLE, width)
    X, Z = purple_return(dx, dz); line(ax, X, Z, PURPLE, width)


def red_all(ax, width, b_side, dx, dz):
    if b_side:
        line(ax, RED_B_START_X, RED_B_START_Z, RED, width)
    else:
        line(ax, RED_A_START_X, RED_A_START_Z, RED, width)
    X, Z = red_main(dx, dz); line(ax, X, Z, RED, width)


# ---- panel a1 ----
for i in range(len(A_S_X)):
    X, Z = black_curve(A_STAGES, i)
    line("", X, Z, BLACK, 1.0)
for i in range(len(AX_S_X)):
    X, Z = extra_curve(AX_STAGES, i)
    line("", X, Z, BLACK, 1.0)
for hx, hz in zip(HOOK_X, HOOK_Z):
    line("", hx, hz, BLACK, 1.0)
purple_all("", 4, False, DIAM_A_X, DIAM_A_Z)
red_all("", 4, False, DIAM_A_X, DIAM_A_Z)
line("", SEG_A1_X, SEG_Z, BLACK, 3.5, smooth=False)
dots("", EQ_X, EQ_Z, GREEN, 9)
dots("", *PUR_DOT_A1, PURPLE, 8)
dots("", *RED_DOT_A1, RED, 8)
dots("", DIAM_A_X, DIAM_A_Z, BLACK, 15, "diamond")

# ---- panel a2 ----
purple_all("2", 3, False, DIAM_A_X, DIAM_A_Z)
line("2", SEG_A2_X, SEG_Z, BLACK, 3, smooth=False)
dots("2", EQ_X, EQ_Z, GREEN, 8)
dots("2", DIAM_A_X, DIAM_A_Z, BLACK, 13, "diamond")

# ---- panel a3 ----
red_all("3", 3, False, DIAM_A_X, DIAM_A_Z)
line("3", SEG_A3_X, SEG_Z, BLACK, 3, smooth=False)
dots("3", EQ_X, EQ_Z, GREEN, 8)
dots("3", *RED_DOT_A3, RED, 7)
dots("3", DIAM_A_X, DIAM_A_Z, BLACK, 13, "diamond")

# ---- panel b1 ----
for i in range(len(B_S_X)):
    X, Z = black_curve(B_STAGES, i)
    line("4", X, Z, BLACK, 1.0)
for i in range(len(BX_S_X)):
    X, Z = extra_curve(BX_STAGES, i)
    line("4", X, Z, BLACK, 1.0)
purple_all("4", 4, True, DIAM_B_X, DIAM_B_Z)
red_all("4", 4, True, DIAM_B_X, DIAM_B_Z)
line("4", SEG_B1_X, SEG_Z, BLACK, 3.5, smooth=False)
dots("4", EQ_X, EQ_Z, GREEN, 9)
dots("4", *RED_DOT_B, RED, 8)
dots("4", DIAM_B_X, DIAM_B_Z, BLACK, 15, "diamond")

# ---- panel b2 ----
purple_all("5", 3, True, DIAM_B_X, DIAM_B_Z)
line("5", SEG_B2_X, SEG_Z, BLACK, 3, smooth=False)
dots("5", EQ_X, EQ_Z, GREEN, 8)
dots("5", DIAM_B_X, DIAM_B_Z, BLACK, 13, "diamond")

# ---- panel b3 ----
red_all("6", 3, True, DIAM_B_X, DIAM_B_Z)
line("6", SEG_B3_X, SEG_Z, BLACK, 3, smooth=False)
dots("6", EQ_X, EQ_Z, GREEN, 8)
dots("6", *RED_DOT_B, RED, 7)
dots("6", DIAM_B_X, DIAM_B_Z, BLACK, 13, "diamond")

# ---------------- axes ----------------
W, H = 1023, 1450
X_TICKS = [-20, -15, -10, -5, 0, 5, 10, 15, 20]
Y_TICKS = [0, 10, 20, 30, 40, 50]


def lab(v):
    return ("\u2212" + str(-v)) if v < 0 else str(v)


def px_dom_x(l, r):
    return [l / W, r / W]


def px_dom_y(t, b):
    return [1 - b / H, 1 - t / H]


TICKFONT = dict(family="Liberation Sans, Arial, sans-serif", size=18, color="black")
PANELS = {
    "": (px_dom_x(39, 669), px_dom_y(20, 682.7), True),
    "2": (px_dom_x(720, 1018), px_dom_y(19, 332.3), False),
    "3": (px_dom_x(720, 1018), px_dom_y(367.7, 681.7), False),
    "4": (px_dom_x(39, 669), px_dom_y(759.5, 1421.7), True),
    "5": (px_dom_x(720, 1018), px_dom_y(758.5, 1071.7), False),
    "6": (px_dom_x(720, 1018), px_dom_y(1106.7, 1420.7), False),
}
layout_axes = {}
for key, (dx, dy, big) in PANELS.items():
    xt = [lab(v) if (big or v % 10 == 0) else "" for v in X_TICKS]
    common = dict(ticks="inside", ticklen=5 if big else 4, tickwidth=1, tickcolor="black",
                  showline=True, linecolor="black", linewidth=1, mirror="ticks",
                  showgrid=False, zeroline=False, tickfont=TICKFONT, fixedrange=True)
    layout_axes["xaxis" + key] = dict(domain=dx, anchor="y" + key, range=[-21, 21], tickmode="array",
                                      tickvals=X_TICKS, ticktext=xt, **common)
    layout_axes["yaxis" + key] = dict(domain=dy, anchor="x" + key, range=[-1, 50], tickmode="array",
                                      tickvals=Y_TICKS, ticktext=[str(v) for v in Y_TICKS], **common)

SERIF = dict(family="Liberation Serif, Times New Roman, serif", size=29, color="black")
TT = dict(family="DejaVu Serif, serif", size=22, color="black")
annotations = [
    dict(text="(a1)", xref="x domain", yref="y domain", x=0.99, y=0.962, xanchor="right", yanchor="middle", showarrow=False, font=SERIF),
    dict(text="(a2)", xref="x2 domain", yref="y2 domain", x=0.99, y=0.91, xanchor="right", yanchor="middle", showarrow=False, font=SERIF),
    dict(text="(a3)", xref="x3 domain", yref="y3 domain", x=0.99, y=0.91, xanchor="right", yanchor="middle", showarrow=False, font=SERIF),
    dict(text="(b1)", xref="x4 domain", yref="y4 domain", x=0.01, y=0.959, xanchor="left", yanchor="middle", showarrow=False, font=SERIF),
    dict(text="(b2)", xref="x5 domain", yref="y5 domain", x=0.028, y=0.912, xanchor="left", yanchor="middle", showarrow=False, font=SERIF),
    dict(text="(b3)", xref="x6 domain", yref="y6 domain", x=0.028, y=0.912, xanchor="left", yanchor="middle", showarrow=False, font=SERIF),
    dict(text="R", xref="x2", yref="y2", x=LBL_R_A2[0], y=LBL_R_A2[1], showarrow=False, font=TT),
    dict(text="R1", xref="x3", yref="y3", x=LBL_R1_A3[0], y=LBL_R1_A3[1], showarrow=False, font=TT),
    dict(text="R", xref="x5", yref="y5", x=LBL_R_B2[0], y=LBL_R_B2[1], showarrow=False, font=TT),
    dict(text="R1", xref="x6", yref="y6", x=LBL_R1_B3[0], y=LBL_R1_B3[1], showarrow=False, font=TT),
]

fig.update_layout(width=W, height=H, autosize=False, margin=dict(l=0, r=0, t=0, b=0),
                  paper_bgcolor="white", plot_bgcolor="white", showlegend=False,
                  annotations=annotations, **layout_axes)

fig.write_html("out.html")
